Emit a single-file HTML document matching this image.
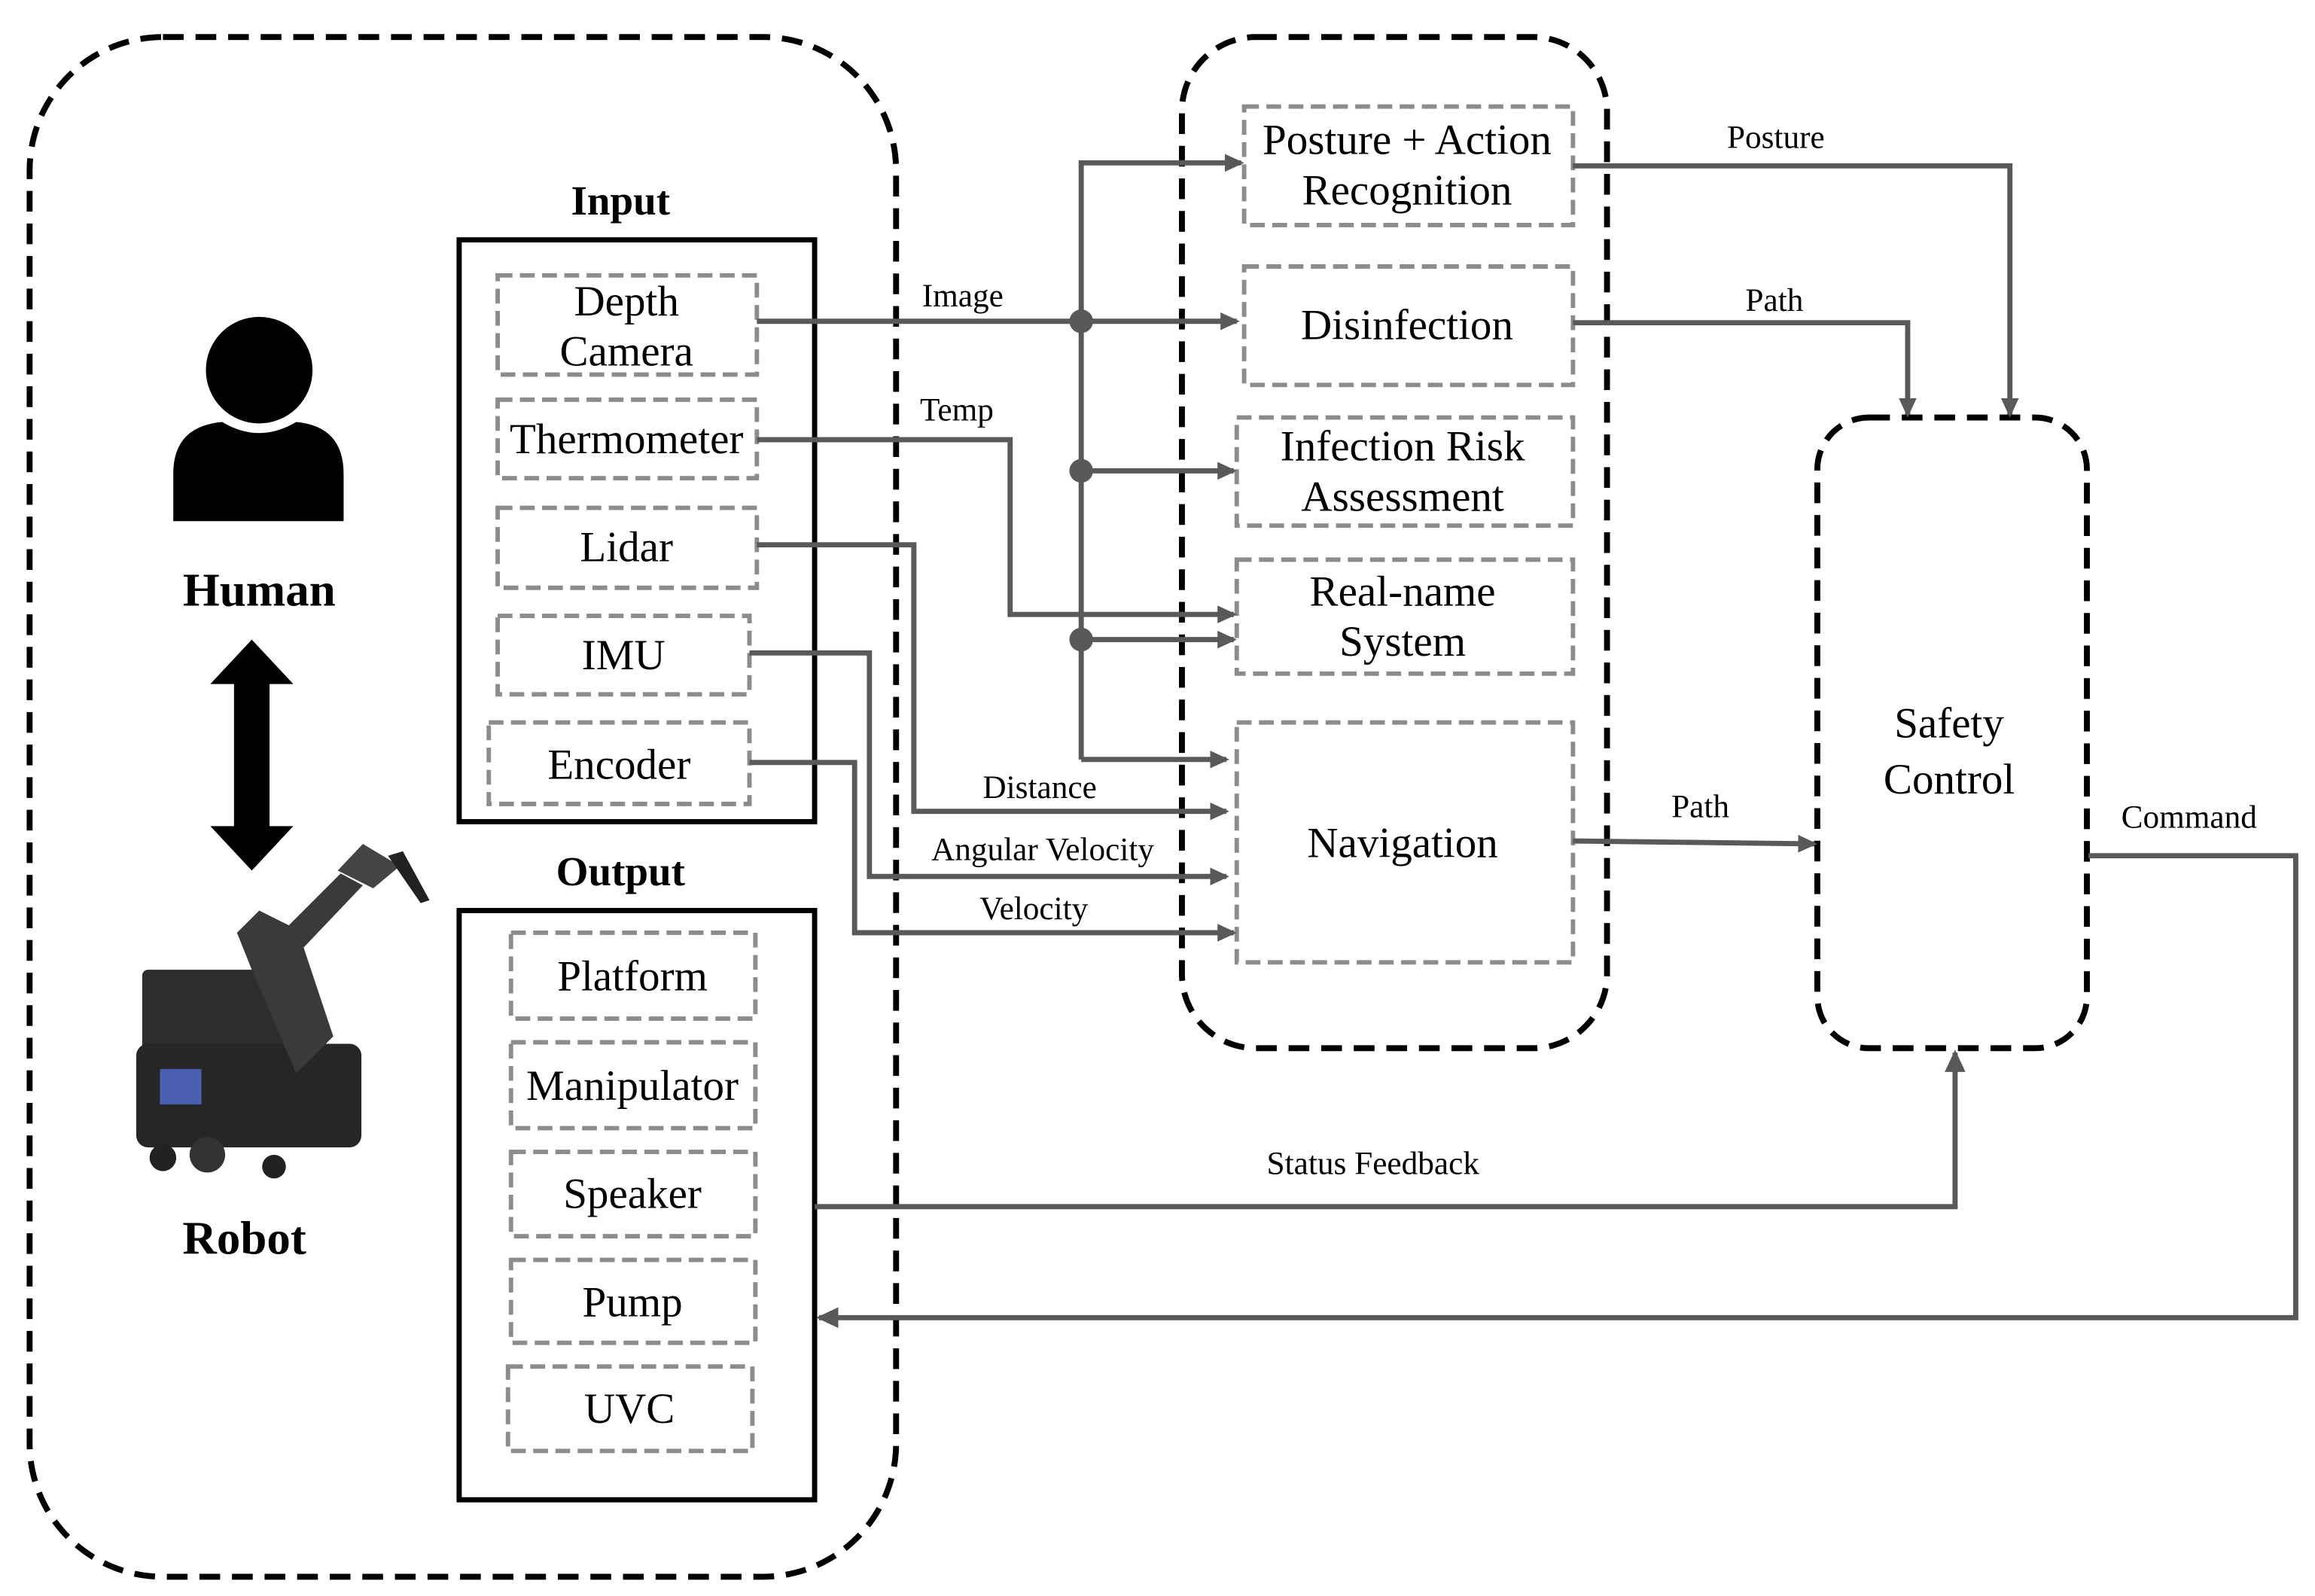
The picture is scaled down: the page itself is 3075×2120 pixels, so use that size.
<!DOCTYPE html>
<html><head><meta charset="utf-8"><style>html,body{margin:0;padding:0;background:#fff}svg{display:block}</style></head>
<body>
<svg width="3075" height="2120" viewBox="0 0 1563 1078" preserveAspectRatio="none" xmlns="http://www.w3.org/2000/svg" font-family="Liberation Serif, serif">
<defs>
<marker id="a" markerWidth="13" markerHeight="12" refX="11" refY="6" orient="auto" markerUnits="userSpaceOnUse"><path d="M0,0 L13,6 L0,12 z" fill="#595959"/></marker>
<marker id="b" markerWidth="15" markerHeight="14" refX="13" refY="7" orient="auto" markerUnits="userSpaceOnUse"><path d="M0,0 L15,7 L0,14 z" fill="#595959"/></marker>
</defs>
<g fill="none" stroke="#000" stroke-width="4" stroke-dasharray="14,8">
<rect x="20" y="25" width="585" height="1040" rx="90"/>
<rect x="798" y="25" width="287" height="683" rx="50"/>
<rect x="1227" y="282" width="182" height="426" rx="35"/>
</g>
<g fill="none" stroke="#000" stroke-width="3.5">
<rect x="310" y="162" width="240" height="393"/>
<rect x="310" y="615" width="240" height="398"/>
</g>
<g fill="none" stroke="#8c8c8c" stroke-width="3" stroke-dasharray="10,5">
<rect x="336" y="186" width="175" height="67"/>
<rect x="336" y="270" width="175" height="53"/>
<rect x="336" y="343" width="175" height="54"/>
<rect x="336" y="416" width="170" height="53"/>
<rect x="330" y="488" width="176" height="55"/>
<rect x="345" y="630" width="165" height="58"/>
<rect x="345" y="704" width="165" height="58"/>
<rect x="345" y="778" width="165" height="57"/>
<rect x="345" y="851" width="165" height="56"/>
<rect x="343" y="923" width="165" height="57"/>
<rect x="840" y="72" width="222" height="80"/>
<rect x="840" y="180" width="222" height="80"/>
<rect x="835" y="282" width="227" height="73"/>
<rect x="835" y="378" width="227" height="77"/>
<rect x="835" y="488" width="227" height="162"/>
</g>
<g fill="none" stroke="#595959" stroke-width="3.5">
<path d="M511,217 H835" marker-end="url(#a)"/>
<path d="M730,513 V110 H838" marker-end="url(#a)"/>
<path d="M730,318 H833" marker-end="url(#a)"/>
<path d="M730,432 H833" marker-end="url(#a)"/>
<path d="M730,513 H828" marker-end="url(#a)"/>
<path d="M511,297 H682 V415 H833" marker-end="url(#a)"/>
<path d="M511,368 H617 V548 H828" marker-end="url(#a)"/>
<path d="M506,441 H587 V592 H828" marker-end="url(#a)"/>
<path d="M506,515 H577 V630 H833" marker-end="url(#a)"/>
<path d="M1062,112 H1357 V280" marker-end="url(#a)"/>
<path d="M1062,218 H1288 V280" marker-end="url(#a)"/>
<path d="M1062,568 L1225,570" marker-end="url(#a)"/>
<path d="M1410,578 H1550 V890 H553" marker-end="url(#b)"/>
<path d="M550,815 H1320 V711" marker-end="url(#b)"/>
</g>
<g fill="#595959"><circle cx="730" cy="217" r="8"/><circle cx="730" cy="318" r="8"/><circle cx="730" cy="432" r="8"/></g>
<!-- human -->
<circle cx="175" cy="250" r="36" fill="#000"/>
<path d="M117,352 V320 Q117,288 150,285 Q175,300 200,285 Q232,288 232,320 V352 Z" fill="#000"/>
<path d="M170,432 L198,462 H182 V558 H198 L170,588 L142,558 H158 V462 H142 Z" fill="#000"/>
<!-- robot -->
<g>
<rect x="96" y="655" width="110" height="58" rx="4" fill="#2d2d2d"/>
<rect x="92" y="705" width="152" height="70" rx="8" fill="#262626"/>
<rect x="108" y="722" width="28" height="24" fill="#4a5fb0"/>
<path d="M200,725 L170,655 L160,630 L175,615 L195,625 L230,590 L245,598 L205,640 L225,700 Z" fill="#3a3a3a"/>
<path d="M228,588 L245,570 L270,585 L252,600 Z" fill="#444"/>
<path d="M262,578 L272,575 L290,608 L284,610 Z" fill="#222"/>
<circle cx="110" cy="782" r="9" fill="#222"/><circle cx="140" cy="780" r="12" fill="#333"/><circle cx="185" cy="788" r="8" fill="#222"/>
</g>
<g font-size="29" text-anchor="middle" fill="#000">
<text x="175" y="409" font-weight="bold" font-size="32">Human</text>
<text x="165" y="847" font-weight="bold" font-size="32">Robot</text>
<text x="419" y="145" font-weight="bold" font-size="28">Input</text>
<text x="419" y="598" font-weight="bold" font-size="28">Output</text>
<text x="423" y="213">Depth</text><text x="423" y="247">Camera</text>
<text x="423" y="306">Thermometer</text>
<text x="423" y="379">Lidar</text>
<text x="421" y="452">IMU</text>
<text x="418" y="526">Encoder</text>
<text x="427" y="669">Platform</text>
<text x="427" y="743">Manipulator</text>
<text x="427" y="816">Speaker</text>
<text x="427" y="889">Pump</text>
<text x="425" y="961">UVC</text>
<text x="950" y="104">Posture + Action</text><text x="950" y="138">Recognition</text>
<text x="950" y="229">Disinfection</text>
<text x="947" y="311">Infection Risk</text><text x="947" y="345">Assessment</text>
<text x="947" y="409">Real-name</text><text x="947" y="443">System</text>
<text x="947" y="579">Navigation</text>
<text x="1316" y="498">Safety</text><text x="1316" y="536">Control</text>
</g>
<g font-size="22" text-anchor="middle" fill="#000">
<text x="650" y="207">Image</text>
<text x="646" y="284">Temp</text>
<text x="702" y="539">Distance</text>
<text x="704" y="581">Angular Velocity</text>
<text x="698" y="621">Velocity</text>
<text x="1199" y="100">Posture</text>
<text x="1198" y="210">Path</text>
<text x="1148" y="552">Path</text>
<text x="1478" y="559">Command</text>
<text x="927" y="793">Status Feedback</text>
</g>
</svg>
</body></html>
